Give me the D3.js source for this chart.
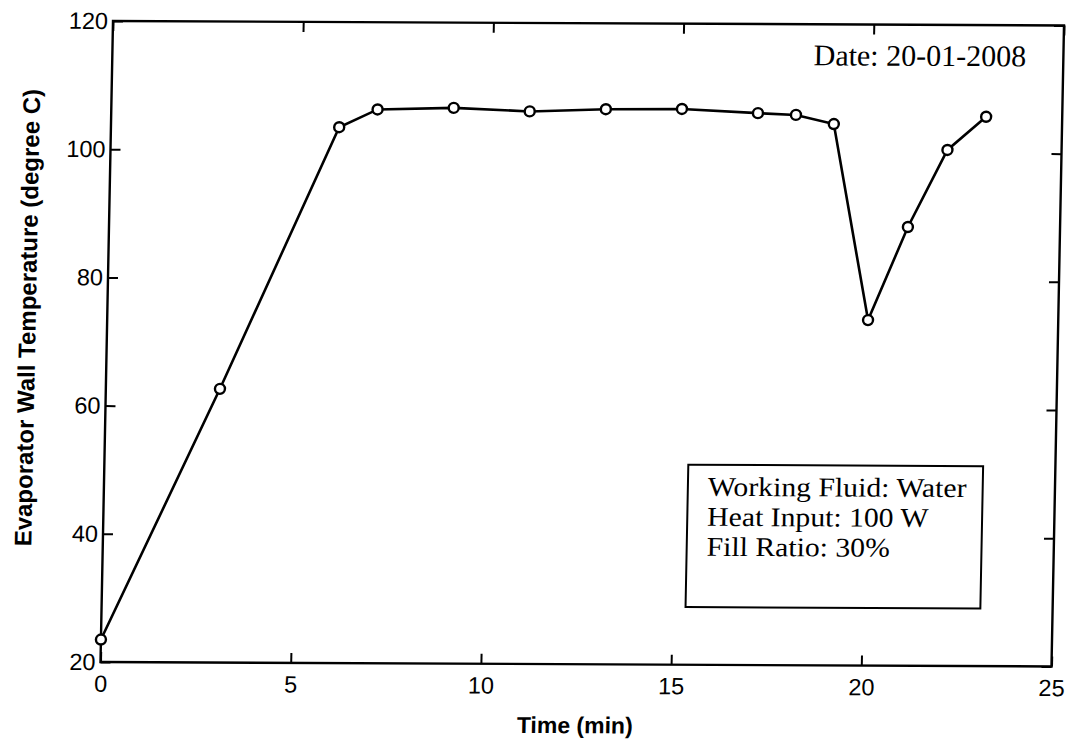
<!DOCTYPE html>
<html>
<head>
<meta charset="utf-8">
<script src="https://cdn.jsdelivr.net/npm/d3@7"></script>
<style>
  body { margin: 0; background: #fff; }
  svg { display: block; }
</style>
</head>
<body>
<svg id="chart" width="1073" height="740"></svg>
<script>
// time (min) and evaporator wall temperature (degree C)
const times = [0, 3, 6, 7, 9, 11, 13, 15, 17, 18, 19, 20, 21, 22, 23]
const temps = [23.5, 62.7, 103.6, 106.4, 106.7, 106.2, 106.6, 106.7, 106.1, 105.85, 104.45, 73.9, 88.45, 100.5, 105.7]
const xTicks = [0, 5, 10, 15, 20, 25]
const yTicks = [20, 40, 60, 80, 100, 120]
const infoLines = ['Working Fluid: Water', 'Heat Input: 100 W', 'Fill Ratio: 30%']
const dateLabel = 'Date: 20-01-2008'

const W = 951
const H = 641
const tickLen = 10

const svg = d3.select('#chart')

// the scanned figure is a little skewed, so the axes box is sheared slightly
const plot = svg.append('g')
    .attr('transform', 'matrix(1, 0.0047, -0.0195, 1, 113, 21)')

const x = d3.scaleLinear().domain([0, 25]).range([0, W])
const y = d3.scaleLinear().domain([20, 120]).range([H, 0])

const tickFont = 'Liberation Sans, Arial, sans-serif'
const serif = 'Liberation Serif, Times New Roman, serif'

// box
plot.append('rect')
    .attr('width', W).attr('height', H)
    .attr('fill', 'none').attr('stroke', '#000').attr('stroke-width', 2.4)

// inward ticks on all four sides
const axBottom = d3.axisBottom(x).tickValues(xTicks).tickSize(-tickLen).tickPadding(13)
const axTop = d3.axisTop(x).tickValues(xTicks).tickSize(-tickLen).tickFormat('')
const axLeft = d3.axisLeft(y).tickValues(yTicks).tickSize(-tickLen).tickPadding(5)
const axRight = d3.axisRight(y).tickValues(yTicks).tickSize(-tickLen).tickFormat('')

const styleAxis = g => {
    g.select('.domain').remove()
    g.selectAll('line').attr('stroke', '#000').attr('stroke-width', 2)
    g.selectAll('text').attr('fill', '#000')
        .style('font-family', tickFont).style('font-size', '23.5px')
}

plot.append('g').attr('transform', `translate(0,${H})`).call(axBottom).call(styleAxis)
plot.append('g').call(axTop).call(styleAxis)
plot.append('g').call(axLeft).call(styleAxis)
plot.append('g').attr('transform', `translate(${W},0)`).call(axRight).call(styleAxis)

// series
const pts = times.map((t, i) => [x(t), y(temps[i])])

plot.append('path')
    .attr('d', d3.line()(pts))
    .attr('fill', 'none').attr('stroke', '#000').attr('stroke-width', 2.6)

plot.selectAll('circle.mk')
    .data(pts)
    .join('circle')
    .classed('mk', true)
    .attr('cx', d => d[0]).attr('cy', d => d[1])
    .attr('r', 5)
    .attr('fill', '#fff').attr('stroke', '#000').attr('stroke-width', 2.4)

// date annotation
plot.append('text')
    .attr('x', x(24.02)).attr('y', y(113.6))
    .attr('text-anchor', 'end')
    .style('font-family', serif).style('font-size', '30px')
    .text(dateLabel)

// info box
const bx0 = x(15.35), bx1 = x(23.1), by0 = y(51.2), by1 = y(29.0)
plot.append('rect')
    .attr('x', bx0).attr('y', by0)
    .attr('width', bx1 - bx0).attr('height', by1 - by0)
    .attr('fill', '#fff').attr('stroke', '#000').attr('stroke-width', 2)

// the scanned lettering is a bit wide, so stretch it horizontally
const info = plot.append('g')
    .attr('transform', `translate(${bx0 + 20},${by0}) scale(1.1,1)`)

info.selectAll('text.info')
    .data(infoLines)
    .join('text')
    .classed('info', true)
    .attr('x', 0)
    .attr('y', (d, i) => 31 + i * 30)
    .style('font-family', serif).style('font-size', '27px')
    .text(d => d)

// axis titles
plot.append('text')
    .attr('x', x(12.5)).attr('y', H + 69)
    .attr('text-anchor', 'middle')
    .style('font-family', tickFont).style('font-size', '23px').style('font-weight', 'bold')
    .text('Time (min)')

plot.append('text')
    .attr('transform', `translate(-71.5,297) rotate(-90)`)
    .attr('text-anchor', 'middle')
    .style('font-family', tickFont).style('font-size', '24px').style('font-weight', 'bold')
    .text('Evaporator Wall Temperature (degree C)')
</script>
</body>
</html>
